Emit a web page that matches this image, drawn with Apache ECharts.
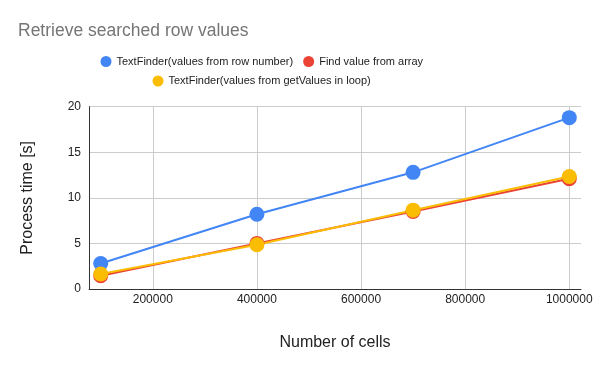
<!DOCTYPE html>
<html>
<head>
<meta charset="utf-8">
<script src="https://cdn.jsdelivr.net/npm/echarts@6/dist/echarts.min.js"></script>
<style>html,body{margin:0;padding:0;background:#fff}#c{width:600px;height:371px}</style>
</head>
<body>
<div id="c"></div>
<script>
var cells = [100000, 400000, 700000, 1000000];
var textFinderRow = [2.8, 8.2, 12.8, 18.8];
var findArray = [1.45, 5.0, 8.5, 12.1];
var textFinderLoop = [1.65, 4.85, 8.65, 12.35];
var xTicks = [200000, 400000, 600000, 800000, 1000000];
var seriesNames = ['TextFinder(values from row number)', 'Find value from array', 'TextFinder(values from getValues in loop)'];
var colors = ['#4285F4', '#EA4335', '#FBBC04'];

function pairs(v){ return cells.map(function(x,i){ return [x, v[i]]; }); }

var chart = echarts.init(document.getElementById('c'));
var font = 'Arial, "Liberation Sans", sans-serif';
chart.setOption({
  animation: false,
  color: colors,
  textStyle: {fontFamily: font},
  title: {text: 'Retrieve searched row values', left: 13, top: 17,
    textStyle: {fontFamily: font, fontSize: 17.5, fontWeight: 'normal', color: '#757575'}},
  legend: [
    {data: [seriesNames[0], seriesNames[1]], top: 51, left: 95.5, icon: 'circle', itemWidth: 11, itemHeight: 11, itemGap: 10,
      textStyle: {fontFamily: font, fontSize: 11, color: '#222'}},
    {data: [seriesNames[2]], top: 70.5, left: 147.5, icon: 'circle', itemWidth: 11, itemHeight: 11,
      textStyle: {fontFamily: font, fontSize: 11, color: '#222'}}
  ],
  grid: {left: 89, right: 19, top: 106.7, bottom: 82, containLabel: false},
  xAxis: {
    type: 'value', min: 77500, max: 1022500,
    name: 'Number of cells', nameLocation: 'middle', nameGap: 46,
    nameTextStyle: {fontFamily: font, fontSize: 16, color: '#222'},
    axisLine: {show: true, lineStyle: {color: '#333', width: 1}},
    axisTick: {show: false, customValues: xTicks},
    axisLabel: {customValues: xTicks, color: '#222', fontSize: 12, margin: 5, fontFamily: font,
      formatter: function(v){ return String(v); }},
    splitLine: {show: true, lineStyle: {color: '#cccccc', width: 1}}
  },
  yAxis: {
    type: 'value', min: 0, max: 20, interval: 5,
    name: 'Process time [s]', nameLocation: 'middle', nameGap: 53,
    nameTextStyle: {fontFamily: font, fontSize: 16, color: '#222'},
    axisLine: {show: true, lineStyle: {color: '#333', width: 1}},
    axisTick: {show: false},
    axisLabel: {color: '#222', fontSize: 12, margin: 8, fontFamily: font},
    splitLine: {show: true, lineStyle: {color: '#cccccc', width: 1}}
  },
  series: [
    {name: seriesNames[0], type: 'line', data: pairs(textFinderRow), symbol: 'circle', symbolSize: 15, lineStyle: {width: 2}},
    {name: seriesNames[1], type: 'line', data: pairs(findArray), symbol: 'circle', symbolSize: 15, lineStyle: {width: 2}},
    {name: seriesNames[2], type: 'line', data: pairs(textFinderLoop), symbol: 'circle', symbolSize: 15, lineStyle: {width: 2}}
  ]
});
</script>
</body>
</html>
